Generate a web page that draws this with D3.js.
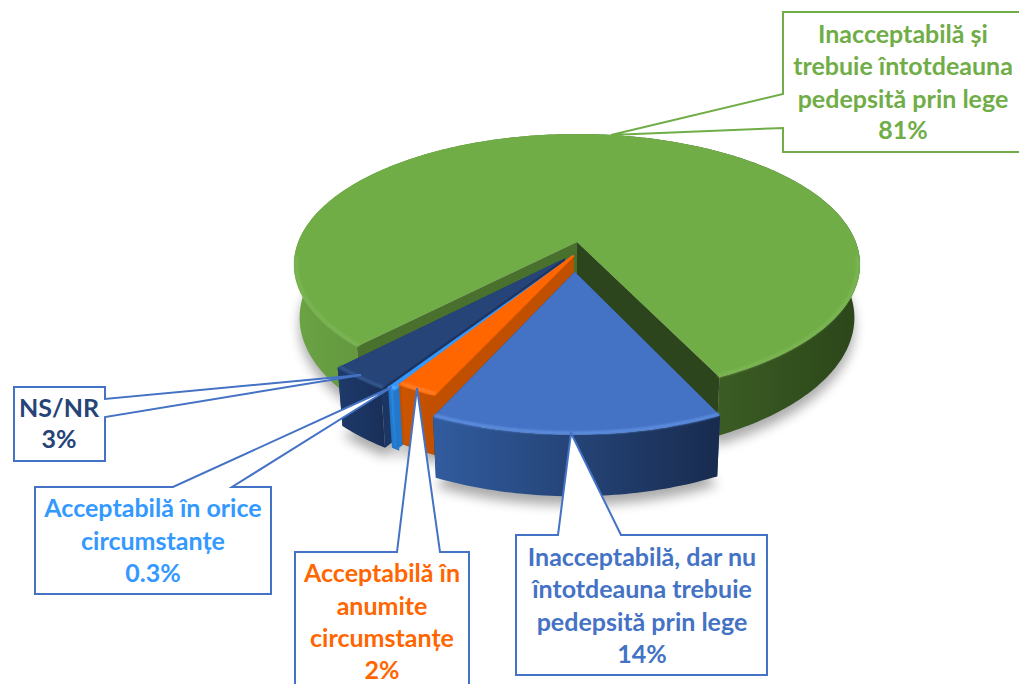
<!DOCTYPE html>
<html>
<head>
<meta charset="utf-8">
<script src="https://cdn.jsdelivr.net/npm/d3@7"></script>
<style>
html,body{margin:0;padding:0;background:#fff;overflow:hidden}
svg{display:block}
text{font-family:Lato,"Open Sans",sans-serif;font-weight:700;font-size:25px;text-anchor:middle}
</style>
</head>
<body>
<svg id="c" width="1019" height="684"></svg>
<script>
// ---- data ----
const categories = [
  "Inacceptabilă și trebuie întotdeauna pedepsită prin lege",
  "Inacceptabilă, dar nu întotdeauna trebuie pedepsită prin lege",
  "Acceptabilă în anumite circumstanțe",
  "Acceptabilă în orice circumstanțe",
  "NS/NR"
];
const values = [81, 14, 2, 0.3, 3];
const valueLabels = ["81%", "14%", "2%", "0.3%", "3%"];
const labelLines = [
  ["Inacceptabilă și", "trebuie întotdeauna", "pedepsită prin lege"],
  ["Inacceptabilă, dar nu", "întotdeauna trebuie", "pedepsită prin lege"],
  ["Acceptabilă în", "anumite", "circumstanțe"],
  ["Acceptabilă în orice", "circumstanțe"],
  ["NS/NR"]
];

// ---- styles ----
const topColors   = ["#70ad47", "#4472c4", "#ff6600", "#3399ff", "#264478"];
const textColors  = ["#70ad47", "#4472c4", "#ff6600", "#3399ff", "#264478"];
const rimColors   = ["#7bb653", "#5f8fe0", "#ff7f2a", "#5ab0ff", "#35588f"];
const wallLeft    = ["#6ba344", "#315c9f", "#cc5500", "#2a90e8", "#1e3a6b"];
const wallRight   = ["#2b4519", "#182b4e", "#c04f00", "#2378cc", "#182f58"];
const faceStart   = ["#4a702e", "#2a4a85", "#c05000", "#2378cc", "#1c3562"];
const faceEnd     = ["#2d451c", "#1e3560", "#c05000", "#2378cc", "#1c3562"];
const borderColors= ["#70ad47", "#4472c4", "#4472c4", "#4472c4", "#4472c4"];
// explosion of each slice on the disc, radius and paint order (back to front)
const explodeU = [0, -0.008, -0.012, -0.018, -0.042];
const explodeV = [0, 0.225, 0.105, 0.12, 0.125];
const radii    = [1, 0.98, 0.985, 1, 1];
const outline  = [0, 0, 2, 2.5, 0];
const paintOrder = [0, 4, 3, 2, 1];

// callout geometry: [left, top, right, bottom], pointer base points and tip
const boxes = [
  {l:783,t:12,r:1030,b:152,side:"left",p:[[783,94],[611,135],[783,128]],cx:903,base:[43,75,108,139]},
  {l:516,t:535,r:767,b:675,side:"top",p:[[558,535],[571,433],[621,535]],cx:642,base:[566,598,631,663]},
  {l:295,t:552,r:469,b:700,side:"top",p:[[397,552],[417,388],[440,552]],cx:382,base:[582,615,647,679]},
  {l:35,t:487,r:271,b:594,side:"top",p:[[173,487],[392,387],[232,487]],cx:153,base:[517,550,582]},
  {l:14,t:387,r:105,b:461,side:"right",p:[[105,399],[361,375],[105,417]],cx:59,base:[417,448]}
];

// ---- projection of the disc ----
const CX = 577, CY = 242, A = 278.8, B = 126.6, K = 0.1724, H = 52;
function project(u, v, z) {
  const w = 1 - K * v, s = 1 - 0.02 * z;
  return [CX + A * u / w * s, CY + (B * v * s + H * z) / w];
}

const rad = d => d * Math.PI / 180;
const pie = d3.pie().sort(null).value(d => d)
  .startAngle(rad(223.7)).endAngle(rad(223.7 + 360));
const arcs = pie(values);

const svg = d3.select("#c");
const defs = svg.append("defs");
defs.append("filter").attr("id", "shadow").attr("x", "-20%").attr("y", "-20%").attr("width", "140%").attr("height", "140%")
  .append("feGaussianBlur").attr("stdDeviation", 6);
defs.append("filter").attr("id", "soft").attr("x", "-10%").attr("y", "-10%").attr("width", "120%").attr("height", "120%")
  .append("feGaussianBlur").attr("stdDeviation", 1.2);

const line = d3.line();

function samples(a0, a1) {
  const n = Math.max(2, Math.ceil((a1 - a0) / rad(1)));
  return d3.range(n + 1).map(i => a0 + (a1 - a0) * i / n);
}
function slicePoints(i, a, k, z) {
  const r = radii[i] * k;
  return project(explodeU[i] + r * Math.sin(a), explodeV[i] - r * Math.cos(a), z);
}
function apex(i, z) { return project(explodeU[i], explodeV[i], z); }

function hGrad(id, x0, x1, c0, c1) {
  const g = defs.append("linearGradient").attr("id", id)
    .attr("gradientUnits", "userSpaceOnUse")
    .attr("x1", x0).attr("x2", x1).attr("y1", 0).attr("y2", 0);
  g.append("stop").attr("offset", 0).attr("stop-color", c0);
  g.append("stop").attr("offset", 1).attr("stop-color", c1);
}

// soft shadow under the pie
const shadowG = svg.append("g").attr("filter", "url(#shadow)").attr("opacity", 0.33)
  .attr("transform", "translate(0,9)");
arcs.forEach((d, i) => {
  const pts = [apex(i, 1)].concat(samples(d.startAngle, d.endAngle).map(a => slicePoints(i, a, 1, 1)));
  shadowG.append("path").attr("d", line(pts) + "Z").attr("fill", "#000");
});

// slices, back to front
const pieG = svg.append("g");
paintOrder.forEach(i => {
  const d = arcs[i];
  const g = pieG.append("g").attr("class", "slice");
  const ang = samples(d.startAngle, d.endAngle);
  const top = ang.map(a => slicePoints(i, a, 1, 0));
  const bottom = ang.map(a => slicePoints(i, a, 1, 1));

  // radial faces
  [[d.startAngle, faceStart[i]], [d.endAngle, faceEnd[i]]].forEach(([a, col]) => {
    g.append("path")
      .attr("d", line([apex(i, 0), slicePoints(i, a, 1, 0), slicePoints(i, a, 1, 1), apex(i, 1)]) + "Z")
      .attr("fill", col);
  });

  // outer wall
  const xs = top.concat(bottom).map(p => p[0]);
  hGrad("wall" + i, d3.min(xs), d3.max(xs), wallLeft[i], wallRight[i]);
  g.append("path")
    .attr("d", line(top.concat(bottom.slice().reverse())) + "Z")
    .attr("fill", "url(#wall" + i + ")")
    .attr("stroke", outline[i] ? wallRight[i] : "none")
    .attr("stroke-width", outline[i]);

  // top face
  g.append("path")
    .attr("d", line([apex(i, 0)].concat(top)) + "Z")
    .attr("fill", topColors[i])
    .attr("stroke", outline[i] ? topColors[i] : "none")
    .attr("stroke-width", outline[i]);

  // bevel highlight along the front of the rim
  const rim = d3.line()
    .defined(a => -Math.cos(a) > 0.1)
    .x(a => slicePoints(i, a, 0.992, 0)[0])
    .y(a => slicePoints(i, a, 0.992, 0)[1]);
  g.append("path")
    .attr("d", rim(ang))
    .attr("fill", "none")
    .attr("stroke", rimColors[i])
    .attr("stroke-width", 3)
    .attr("filter", "url(#soft)");
});

// callouts
const callouts = svg.append("g");
boxes.forEach((b, i) => {
  let pts;
  if (b.side === "left") {
    pts = [[b.l, b.t], [b.r, b.t], [b.r, b.b], [b.l, b.b], b.p[2], b.p[1], b.p[0]];
  } else if (b.side === "right") {
    pts = [[b.l, b.t], [b.r, b.t], b.p[0], b.p[1], b.p[2], [b.r, b.b], [b.l, b.b]];
  } else {
    pts = [[b.l, b.t], b.p[0], b.p[1], b.p[2], [b.r, b.t], [b.r, b.b], [b.l, b.b]];
  }
  callouts.append("path")
    .attr("d", line(pts) + "Z")
    .attr("fill", "#fff")
    .attr("stroke", borderColors[i])
    .attr("stroke-width", 2)
    .attr("stroke-linejoin", "miter");
  const lines = labelLines[i].concat([valueLabels[i]]);
  lines.forEach((t, j) => {
    callouts.append("text")
      .attr("x", b.cx).attr("y", b.base[j])
      .attr("fill", textColors[i])
      .text(t);
  });
});
</script>
</body>
</html>
